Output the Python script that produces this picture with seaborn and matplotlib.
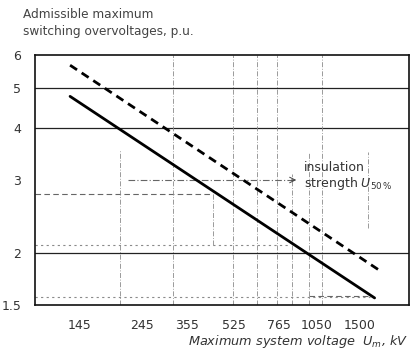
import matplotlib
matplotlib.use("Agg")
import matplotlib.pyplot as plt
import numpy as np
import pandas as pd
import seaborn as sns

# Maximum system voltage (kV) at the ends of each characteristic
voltage_kv = [134, 1700]
# Admissible maximum switching overvoltage, p.u.
admissible_pu = [4.77, 1.56]
# Insulation strength U50%, p.u.
voltage_ins_kv = [134, 1810]
insulation_pu = [5.67, 1.80]

x_ticks = [145, 245, 355, 525, 765, 1050, 1500]
x_ticklabels = ["145", "245", "355", "525", "765", "1050", "1500"]
y_ticks = [1.5, 2, 3, 4, 5, 6]
y_ticklabels = ["1.5", "2", "3", "4", "5", "6"]

sns.set_style("white")
plt.rcParams["font.family"] = ["DejaVu Sans"]

df = pd.concat([
    pd.DataFrame({"U": voltage_kv, "pu": admissible_pu, "curve": "admissible"}),
    pd.DataFrame({"U": voltage_ins_kv, "pu": insulation_pu, "curve": "insulation"}),
])

fig = plt.figure(figsize=(4.14, 3.54), dpi=100)
ax = fig.add_axes([35 / 414, 49 / 354, 374 / 414, 250 / 354])
ax.set_xscale("log")
ax.set_yscale("log")
ax.set_xlim(100, 2265)
ax.set_ylim(1.5, 6)

# construction grid: full-width reference levels
for lvl in (5, 4, 2):
    ax.axhline(lvl, color="#222222", lw=0.9, zorder=1)

grey = "#666666"
light = "#8a8a8a"
dd = (0, (6, 2, 1, 2))
# partial horizontal guide lines
ax.hlines(3.0, 217, 870, color=grey, lw=0.8, linestyles=[dd], zorder=1)
ax.hlines(2.78, 100, 441, color=grey, lw=0.8, linestyles=[(0, (5, 3))], zorder=1)
ax.hlines(2.09, 100, 838, color=light, lw=0.8, linestyles=[(0, (2, 3))], zorder=1)
ax.hlines(1.57, 100, 1636, color=light, lw=0.8, linestyles=[(0, (2, 3))], zorder=1)
ax.hlines(1.58, 985, 1636, color=grey, lw=0.8, linestyles=[(0, (5, 3))], zorder=1)

# vertical guide lines
vguides = [(203, 1.5, 3.54), (316, 1.5, 6), (441, 2.09, 2.8), (522, 1.5, 6),
           (637, 1.5, 6), (753, 1.5, 6), (852, 1.5, 3.1), (985, 1.5, 3.5),
           (1093, 1.5, 6), (1608, 2.3, 3.5)]
for xv, y0, y1 in vguides:
    ax.vlines(xv, y0, y1, color=light, lw=0.6, linestyles=[dd], zorder=1)

sns.lineplot(data=df, x="U", y="pu", style="curve",
             dashes={"admissible": "", "insulation": (3, 2)},
             color="black", linewidth=2.0, legend=False, ax=ax, zorder=3)

ax.text(940, 3.06, "insulation\nstrength $U_{50\\,\\%}$", fontsize=9,
        color="#333333", ha="left", va="center", linespacing=1.15)
ax.annotate("", xy=(905, 3.0), xytext=(830, 3.0),
            arrowprops=dict(arrowstyle="->", color="#444444", lw=0.7))

ax.xaxis.set_major_locator(matplotlib.ticker.FixedLocator(x_ticks))
ax.xaxis.set_minor_locator(matplotlib.ticker.NullLocator())
ax.set_xticklabels(x_ticklabels)
ax.yaxis.set_major_locator(matplotlib.ticker.FixedLocator(y_ticks))
ax.yaxis.set_minor_locator(matplotlib.ticker.NullLocator())
ax.set_yticklabels(y_ticklabels)
ax.tick_params(axis="x", direction="out", length=4, width=0.8, colors="#222222",
               labelsize=9, labelcolor="#333333", pad=6)
ax.tick_params(axis="y", length=0, labelsize=9, labelcolor="#333333", pad=10)
ax.grid(False)

for s in ax.spines.values():
    s.set_color("#111111")
    s.set_linewidth(1.2)

ax.set_xlabel("")
ax.set_ylabel("")
fig.text(23 / 414, 1 - 23 / 354, "Admissible maximum\nswitching overvoltages, p.u.",
         fontsize=8.7, color="#444444", ha="left", va="center", linespacing=1.45)
fig.text(408 / 414, 1 - 341 / 354, "Maximum system voltage  $U_{m}$, kV",
         fontsize=9.3, color="#333333", ha="right", va="center", style="italic")

fig.savefig("out.png", dpi=100)
